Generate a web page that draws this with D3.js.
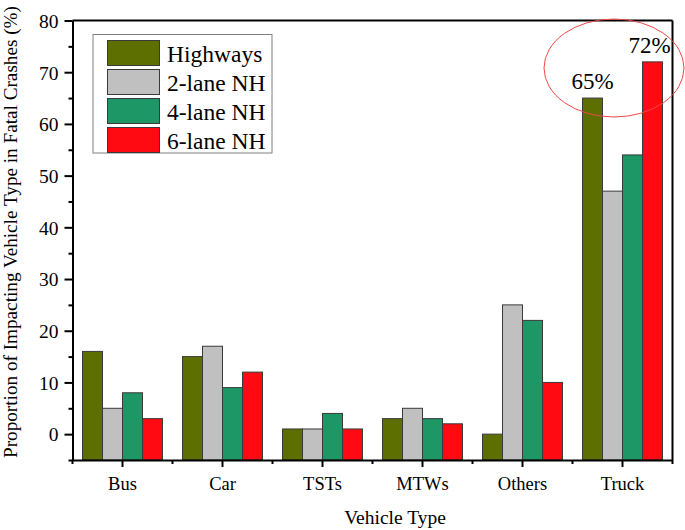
<!DOCTYPE html>
<html><head><meta charset="utf-8">
<script src="https://cdn.jsdelivr.net/npm/d3@7"></script>
<style>body{margin:0;background:#fff}svg{display:block}svg text{font-family:'Liberation Serif','DejaVu Serif','Times New Roman',Times,serif !important;fill:#000}</style>
</head><body><svg id="c" width="685" height="530"></svg>
<script>
const categories = ["Bus","Car","TSTs","MTWs","Others","Truck"];
const seriesNames = ["Highways","2-lane NH","4-lane NH","6-lane NH"];
const highways = [16,15,1,3,0,65];
const twoLane = [5,17,1,5,25,47];
const fourLane = [8,9,4,3,22,54];
const sixLane = [3,12,1,2,10,72];
const yTicks = [0,10,20,30,40,50,60,70,80];
const yMinor = [-5,5,15,25,35,45,55,65,75];
const annotations = [{cat:"Truck", series:"Highways", label:"65%"},{cat:"Truck", series:"6-lane NH", label:"72%"}];
const colors = ["#5c6f00","#c0c0c0","#1e9767","#ff0a12"];

const seriesValues = [highways,twoLane,fourLane,sixLane];
const data = categories.map((c,i)=>({cat:c, vals:seriesNames.map((s,j)=>({s, v:seriesValues[j][i]}))}));
const FF = "'Liberation Serif','DejaVu Serif',serif";

const svg = d3.select("#c");
const L=72.5, R=672.5, T=20.5, B=460;
const x = d3.scaleBand().domain(categories).range([L,R]).paddingInner(0.2).paddingOuter(0.1);
const x1 = d3.scaleBand().domain(seriesNames).range([0,x.bandwidth()]);
const y = d3.scaleLinear().domain([-5,80]).range([B,T]);
const color = d3.scaleOrdinal().domain(seriesNames).range(colors);

// bars
const g = svg.append("g");
g.selectAll("g.grp").data(data).join("g").attr("class","grp")
 .attr("transform",d=>`translate(${x(d.cat)},0)`)
 .selectAll("rect").data(d=>d.vals).join("rect")
 .attr("x",d=>x1(d.s)).attr("width",x1.bandwidth())
 .attr("y",d=>y(d.v)).attr("height",d=>y(-5)-y(d.v))
 .attr("fill",d=>color(d.s)).attr("stroke","#3a3a3a").attr("stroke-width",1);

// frame
svg.append("line").attr("x1",L).attr("x2",R).attr("y1",T).attr("y2",T).attr("stroke","#000").attr("stroke-width",2);
svg.append("line").attr("x1",R).attr("x2",R).attr("y1",T).attr("y2",B).attr("stroke","#000").attr("stroke-width",2);

// y axis
const yAx = svg.append("g").attr("transform",`translate(${L},0)`)
 .call(d3.axisLeft(y).tickValues(yTicks).tickSize(8).tickPadding(6).tickSizeOuter(0));
const yAxMinor = svg.append("g").attr("transform",`translate(${L},0)`)
 .call(d3.axisLeft(y).tickValues(yMinor).tickSize(4).tickFormat("").tickSizeOuter(0));
[yAx,yAxMinor].forEach(a=>{a.attr("font-family",FF);a.select(".domain").attr("stroke","#000").attr("stroke-width",2);
 a.selectAll(".tick line").attr("stroke","#000").attr("stroke-width",2);});
yAx.selectAll(".tick text").attr("font-size",19.5).attr("dy","0.35em");

// x axis
const xAx = svg.append("g").attr("transform",`translate(0,${B})`)
 .call(d3.axisBottom(x).tickSize(7).tickPadding(10).tickSizeOuter(0));
xAx.attr("font-family",FF);
xAx.select(".domain").attr("stroke","#000").attr("stroke-width",2);
xAx.selectAll(".tick line").attr("stroke","#000").attr("stroke-width",2);
xAx.selectAll(".tick text").attr("font-size",18.5);
const gap = (x.step()-x.bandwidth())/2;
const bounds = [x(categories[0])-gap].concat(categories.map(c=>x(c)+x.bandwidth()+gap));
svg.append("g").selectAll("line").data(bounds).join("line")
 .attr("x1",d=>d).attr("x2",d=>d)
 .attr("y1",B).attr("y2",B+4).attr("stroke","#000").attr("stroke-width",2);

// axis titles
svg.append("text").attr("x",395).attr("y",524).attr("text-anchor","middle").attr("font-size",19.5).text("Vehicle Type");
svg.append("text").attr("transform",`translate(16.5,232) rotate(-90)`).attr("text-anchor","middle").attr("font-size",19.2)
 .text("Proportion of Impacting Vehicle Type in Fatal Crashes (%)");

// legend
const lg = svg.append("g");
lg.append("rect").attr("x",93).attr("y",34.5).attr("width",179).attr("height",118.5).attr("fill","#fff").attr("stroke","#808080").attr("stroke-width",1);
seriesNames.forEach((s,i)=>{
  const yy = 40.5 + i*29;
  lg.append("rect").attr("x",107.5).attr("y",yy).attr("width",52).attr("height",25).attr("fill",color(s)).attr("stroke","#3a3a3a").attr("stroke-width",1);
  lg.append("text").attr("x",167).attr("y",yy+21).attr("font-size",23.5).text(s);
});

// annotations
annotations.forEach((a,i)=>{
  const v = seriesValues[seriesNames.indexOf(a.series)][categories.indexOf(a.cat)];
  svg.append("text").attr("x",x(a.cat)+x1(a.series)+x1.bandwidth()/2).attr("dx",i===1?-3:0).attr("y",y(v)-9)
   .attr("text-anchor","middle").attr("font-size",23).text(a.label);
});
svg.append("ellipse").attr("cx",614).attr("cy",68).attr("rx",70).attr("ry",49)
 .attr("fill","none").attr("stroke","#f04848").attr("stroke-width",1);
</script></body></html>
